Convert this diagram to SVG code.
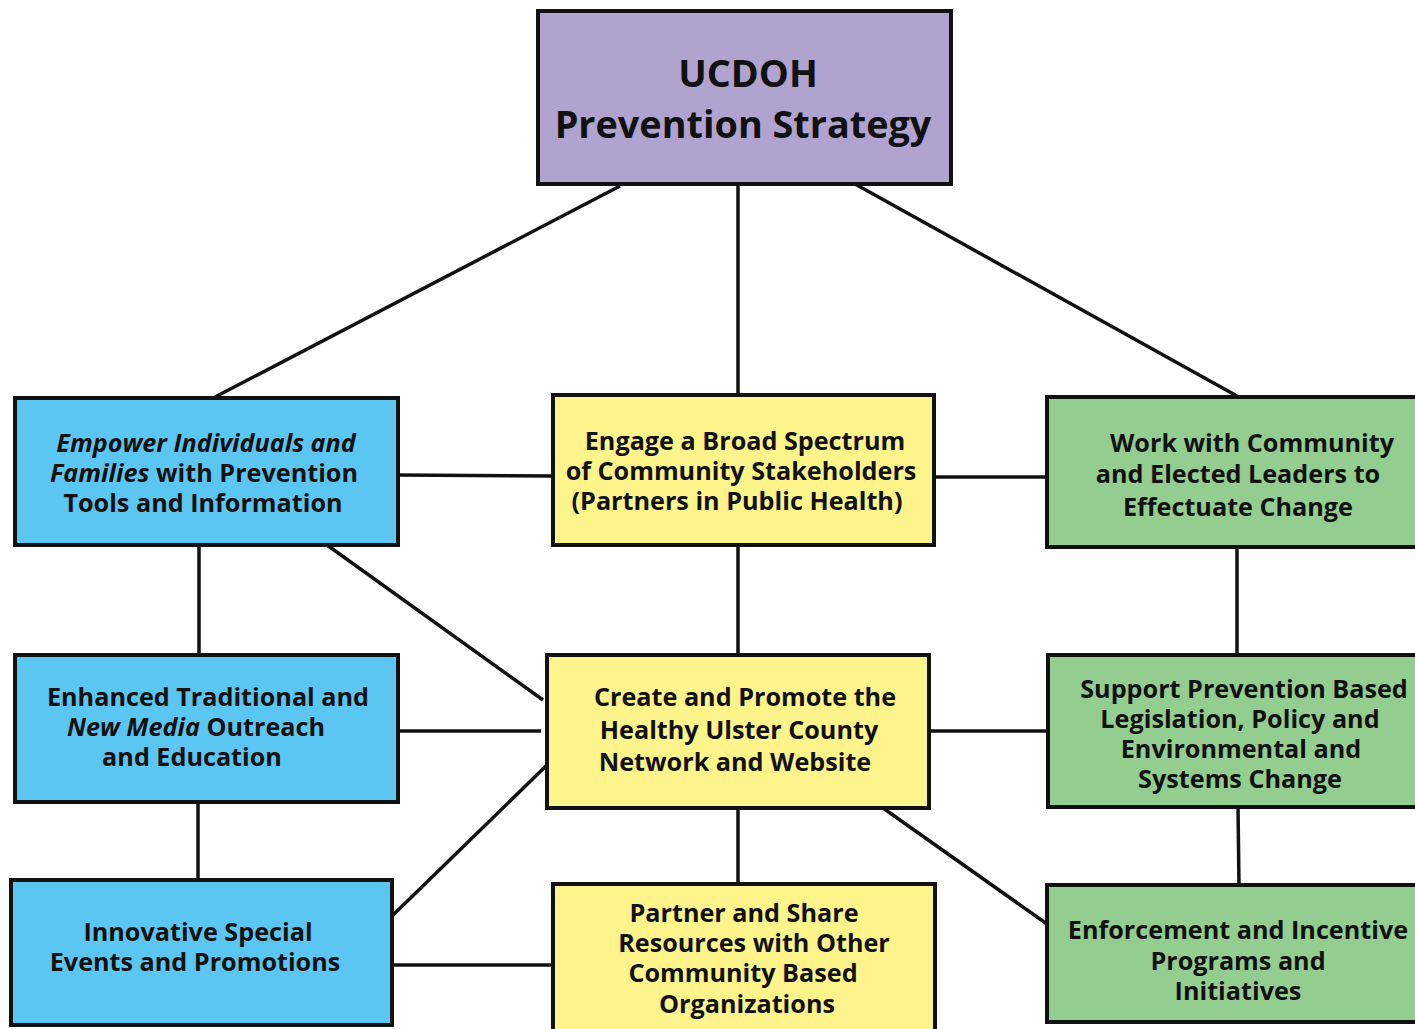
<svg xmlns="http://www.w3.org/2000/svg" width="1415" height="1029" viewBox="0 0 1415 1029">
<style>
.box{stroke:#111;stroke-width:4}
.p{fill:#B0A3D0}.b{fill:#5BC6F2}.y{fill:#FEF48C}.g{fill:#93CD8F}
.t{font-family:"Open Sans","Liberation Sans",sans-serif;font-weight:700;font-size:25.2px;fill:#111;text-anchor:middle}
.h{font-size:37.8px}
.c line{stroke:#111;stroke-width:3.5}
</style>
<rect width="1415" height="1029" fill="#fff"/>
<g class="c">
<line x1="620" y1="186" x2="215" y2="397"/>
<line x1="738" y1="184" x2="738" y2="395"/>
<line x1="855" y1="184" x2="1237" y2="396"/>
<line x1="398" y1="475" x2="553" y2="476"/>
<line x1="934" y1="477" x2="1047" y2="477"/>
<line x1="199" y1="545" x2="199" y2="655"/>
<line x1="327" y1="545" x2="543" y2="700"/>
<line x1="738" y1="545" x2="738" y2="655"/>
<line x1="1237" y1="547" x2="1237" y2="655"/>
<line x1="398" y1="731" x2="541" y2="731"/>
<line x1="929" y1="731" x2="1048" y2="731"/>
<line x1="198" y1="802" x2="198" y2="880"/>
<line x1="390" y1="918" x2="546" y2="766"/>
<line x1="738" y1="808" x2="738" y2="884"/>
<line x1="883" y1="808" x2="1047" y2="924"/>
<line x1="1238" y1="807" x2="1239" y2="885"/>
<line x1="392" y1="965" x2="553" y2="965"/>
</g>
<g id="top"><rect class="box p" x="538" y="11" width="413" height="173"/>
<text class="t h" x="748" y="87">UCDOH</text>
<text class="t h" x="743" y="138">Prevention Strategy</text></g>
<g id="empower"><rect class="box b" x="15" y="398" width="383" height="147"/>
<text class="t" x="206" y="452"><tspan font-style="italic">Empower Individuals and</tspan></text>
<text class="t" x="204" y="482"><tspan font-style="italic">Families</tspan> with Prevention</text>
<text class="t" x="203" y="512">Tools and Information</text></g>
<g id="engage"><rect class="box y" x="553" y="395" width="381" height="150"/>
<text class="t" x="745" y="450">Engage a Broad Spectrum</text>
<text class="t" x="741" y="480">of Community Stakeholders</text>
<text class="t" x="737" y="510">(Partners in Public Health)</text></g>
<g id="work"><rect class="box g" x="1047" y="397" width="380" height="150"/>
<text class="t" x="1252" y="452">Work with Community</text>
<text class="t" x="1238" y="483">and Elected Leaders to</text>
<text class="t" x="1238" y="516">Effectuate Change</text></g>
<g id="enhanced"><rect class="box b" x="15" y="655" width="383" height="147"/>
<text class="t" x="208" y="706">Enhanced Traditional and</text>
<text class="t" x="196" y="736"><tspan font-style="italic">New Media</tspan> Outreach</text>
<text class="t" x="192" y="766">and Education</text></g>
<g id="create"><rect class="box y" x="547" y="655" width="382" height="153"/>
<text class="t" x="745" y="706">Create and Promote the</text>
<text class="t" x="739" y="739">Healthy Ulster County</text>
<text class="t" x="735" y="771">Network and Website</text></g>
<g id="support"><rect class="box g" x="1048" y="655" width="380" height="152"/>
<text class="t" x="1244" y="698">Support Prevention Based</text>
<text class="t" x="1240" y="728">Legislation, Policy and</text>
<text class="t" x="1241" y="758">Environmental and</text>
<text class="t" x="1240" y="788">Systems Change</text></g>
<g id="innovative"><rect class="box b" x="11" y="880" width="381" height="145"/>
<text class="t" x="198" y="941">Innovative Special</text>
<text class="t" x="195" y="971">Events and Promotions</text></g>
<g id="partner"><rect class="box y" x="553" y="884" width="382" height="155"/>
<text class="t" x="744" y="922">Partner and Share</text>
<text class="t" x="754" y="952">Resources with Other</text>
<text class="t" x="743" y="982">Community Based</text>
<text class="t" x="747" y="1013">Organizations</text></g>
<g id="enforcement"><rect class="box g" x="1047" y="885" width="380" height="137"/>
<text class="t" x="1238" y="939">Enforcement and Incentive</text>
<text class="t" x="1238" y="970">Programs and</text>
<text class="t" x="1238" y="1000">Initiatives</text></g>
</svg>
